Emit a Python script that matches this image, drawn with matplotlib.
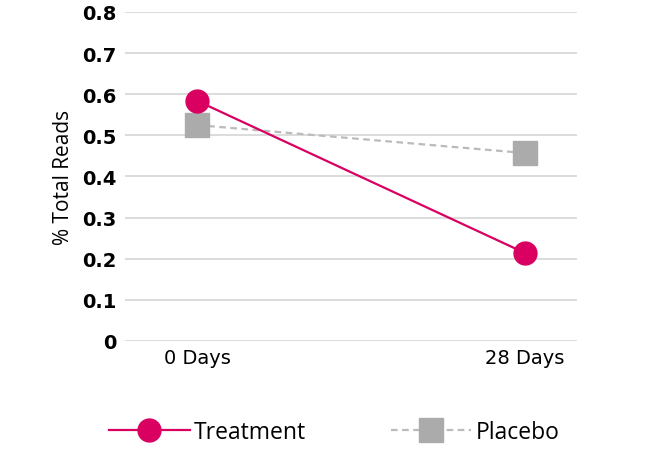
import numpy as np
from matplotlib import pyplot as plt

# data
timepoints = ['0 Days', '28 Days']
treatment = [0.584, 0.214]
placebo = [0.525, 0.457]
yticks = [0, 0.1, 0.2, 0.3, 0.4, 0.5, 0.6, 0.7, 0.8]

pink = '#D90062'
grey = '#ABABAB'

plt.rcParams['font.family'] = ['Open Sans', 'DejaVu Sans']

fig = plt.figure(figsize=(6.69, 4.52), dpi=100)
ax = fig.add_axes([0.1868, 0.2434, 0.6757, 0.7279])

x = np.arange(len(timepoints))
ax.plot(x, placebo, color='#BBBBBB', lw=1.6, ls=(0, (3, 2)),
        marker='s', ms=17, mfc=grey, mec=grey, label='Placebo', zorder=3)
ax.plot(x, treatment, color=pink, lw=1.6,
        marker='o', ms=16.5, mfc=pink, mec=pink, label='Treatment', zorder=4)

ax.set_xlim(-0.22, 1.159)
ax.set_ylim(0, 0.8)
ax.set_yticks(yticks)
ax.set_yticklabels([f'{v:g}' for v in yticks], fontsize=14,
                   fontweight='bold', family='DejaVu Sans')
ax.set_xticks(x)
ax.set_xticklabels(timepoints, fontsize=14, family='DejaVu Sans')
ax.tick_params(length=0, pad=5)
ax.tick_params(axis='y', pad=6)
ax.grid(axis='y', color='#D9D9D9', lw=1.3)
ax.set_axisbelow(True)
for s in ax.spines.values():
    s.set_visible(False)
ax.set_ylabel('% Total Reads', fontsize=15, labelpad=6)

h, l = ax.get_legend_handles_labels()
fig.legend(h[::-1], l[::-1], loc='center', bbox_to_anchor=(0.5, 0.043),
           ncol=2, frameon=False, fontsize=16.5, handlelength=3.5,
           handletextpad=0.2, columnspacing=3.7)

fig.savefig('out.png', dpi=100)
